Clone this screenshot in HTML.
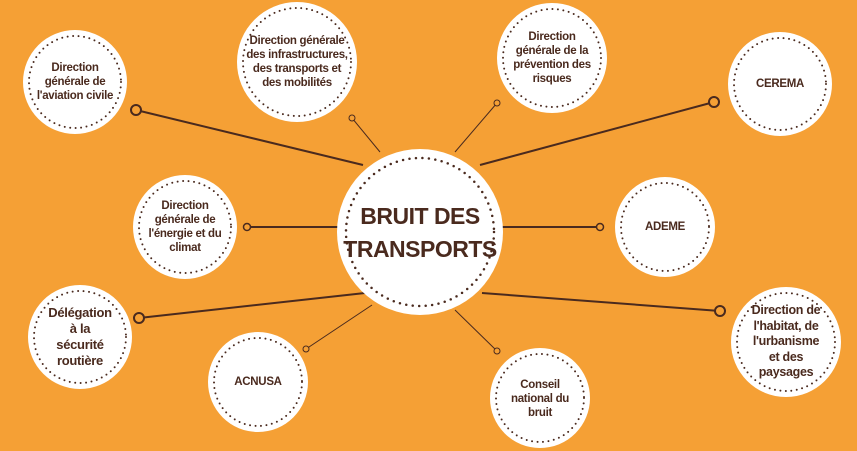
<!DOCTYPE html>
<html><head><meta charset="utf-8"><style>
body{margin:0;width:857px;height:451px;background:#F5A035;overflow:hidden;position:relative;font-family:"Liberation Sans",sans-serif}
svg{position:absolute;left:0;top:0}
.n{position:absolute;display:flex;align-items:center;justify-content:center;text-align:center;color:#4a2a1e;font-weight:bold;font-size:11.5px;line-height:14px;letter-spacing:-0.3px}
</style></head><body>
<svg width="857" height="451">
<g stroke="#4a2a1e" stroke-width="2" fill="none">
<line x1="363" y1="165" x2="136" y2="110"/>
<line x1="380" y1="152" x2="352" y2="118" stroke-width="1"/>
<line x1="455" y1="152" x2="497" y2="103" stroke-width="1"/>
<line x1="480" y1="165" x2="714" y2="102"/>
<line x1="338" y1="227" x2="247" y2="227"/>
<line x1="500" y1="227" x2="600" y2="227"/>
<line x1="365" y1="293" x2="139" y2="318"/>
<line x1="372" y1="305" x2="306" y2="349" stroke-width="1"/>
<line x1="455" y1="310" x2="497" y2="351" stroke-width="1"/>
<line x1="482" y1="293" x2="720" y2="311"/>
</g>
<g stroke="#4a2a1e" stroke-width="2" fill="#F5A035">
<circle cx="136" cy="110" r="5"/><circle cx="714" cy="102" r="5"/>
<circle cx="139" cy="318" r="5"/><circle cx="720" cy="311" r="5"/>
<circle cx="247" cy="227" r="3.5" stroke-width="1.5"/><circle cx="600" cy="227" r="3.5" stroke-width="1.5"/>
<circle cx="352" cy="118" r="3" stroke-width="1"/><circle cx="497" cy="103" r="3" stroke-width="1"/>
<circle cx="306" cy="349" r="3" stroke-width="1"/><circle cx="497" cy="351" r="3" stroke-width="1"/>
</g>
<g fill="#fff" stroke="#4a2a1e">
<circle cx="420" cy="232" r="83" stroke="none"/>
<circle cx="420" cy="232" r="74" fill="none" stroke-width="2.5" stroke-dasharray="0 6.5" stroke-linecap="round"/>
</g>
<g fill="#fff">
<circle cx="75" cy="82" r="52"/><circle cx="297" cy="62" r="60"/><circle cx="552" cy="58" r="55"/>
<circle cx="780" cy="84" r="52"/><circle cx="185" cy="227" r="52"/><circle cx="665" cy="227" r="50"/>
<circle cx="80" cy="337" r="52"/><circle cx="258" cy="382" r="50"/><circle cx="540" cy="398" r="50"/>
<circle cx="786" cy="342" r="55"/>
</g>
<g fill="none" stroke="#4a2a1e" stroke-width="2" stroke-dasharray="0 5.5" stroke-linecap="round">
<circle cx="75" cy="82" r="46"/><circle cx="297" cy="62" r="54"/><circle cx="552" cy="58" r="49"/>
<circle cx="780" cy="84" r="46"/><circle cx="185" cy="227" r="46"/><circle cx="665" cy="227" r="44"/>
<circle cx="80" cy="337" r="46"/><circle cx="258" cy="382" r="44"/><circle cx="540" cy="398" r="44"/>
<circle cx="786" cy="342" r="49"/>
</g>
</svg>
<div class="n" style="left:345px;top:195px;width:150px;height:75px;font-size:23px;line-height:33px;letter-spacing:-0.5px">BRUIT DES<br>TRANSPORTS</div>
<div class="n" style="left:35px;top:52px;width:80px;height:60px">Direction générale de l'aviation civile</div>
<div class="n" style="left:245px;top:22px;width:104px;height:80px">Direction générale des infrastructures, des transports et des mobilités</div>
<div class="n" style="left:512px;top:20px;width:80px;height:76px">Direction générale de la prévention des risques</div>
<div class="n" style="left:740px;top:74px;width:80px;height:20px">CEREMA</div>
<div class="n" style="left:148px;top:197px;width:74px;height:60px">Direction générale de l'énergie et du climat</div>
<div class="n" style="left:625px;top:217px;width:80px;height:20px">ADEME</div>
<div class="n" style="left:45px;top:305px;width:70px;height:64px;font-size:13px;line-height:16px">Délégation à la sécurité routière</div>
<div class="n" style="left:218px;top:372px;width:80px;height:20px">ACNUSA</div>
<div class="n" style="left:505px;top:378px;width:70px;height:42px">Conseil national du bruit</div>
<div class="n" style="left:746px;top:303px;width:80px;height:78px;font-size:12.5px;line-height:15.5px">Direction de l'habitat, de l'urbanisme et des paysages</div>
</body></html>
